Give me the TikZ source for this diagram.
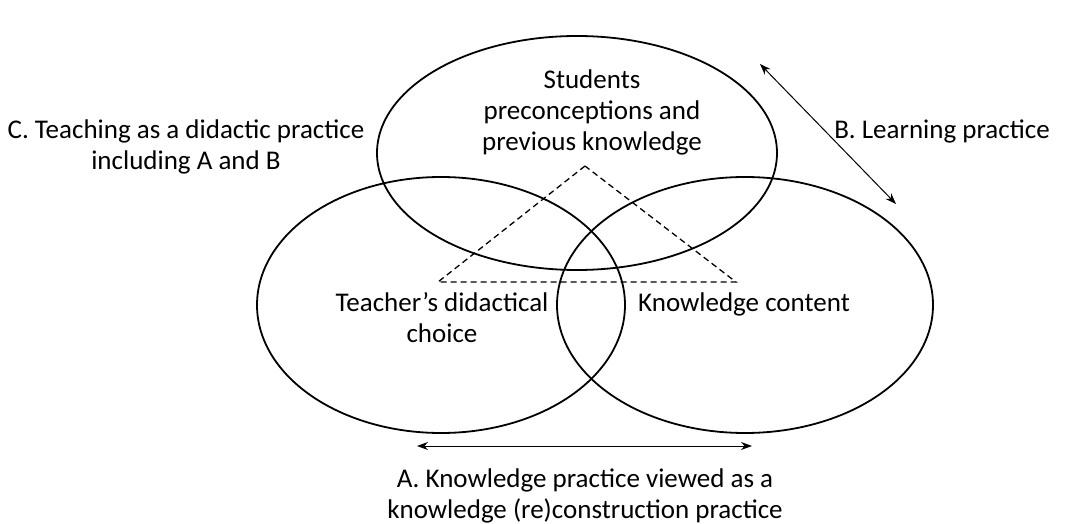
\documentclass[tikz,border=0pt]{standalone}
\usepackage{fontspec}
\setmainfont{Carlito}
\usetikzlibrary{arrows.meta}
\begin{document}
\begin{tikzpicture}[x=1pt,y=-1pt,
  ring/.style={draw=black,line width=1.8pt},
  lab/.style={font=\fontsize{27}{31}\selectfont,align=center,inner sep=0pt,anchor=base},
  dbl/.style={line width=1pt,{Stealth[length=11pt,width=8pt]}-{Stealth[length=11pt,width=8pt]}},
  tri/.style={dashed,line width=1.3pt,dash pattern=on 6pt off 4pt}]
\useasboundingbox (0,0) rectangle (1069,524);
\fill[white] (0,0) rectangle (1069,524);
\draw[ring] (577,153) ellipse [x radius=200, y radius=117];
\draw[ring] (441,305) ellipse [x radius=184, y radius=128];
\draw[ring] (745,305) ellipse [x radius=188, y radius=128];
\coordinate (ta) at (585,166);
\coordinate (tl) at (438,282);
\coordinate (tr) at (736,282);
\draw[tri] (ta) -- (tl) -- (tr) -- cycle;
\coordinate (b1) at (760,64);
\coordinate (b2) at (896,204);
\draw[dbl] (b1) -- (b2);
\coordinate (a1) at (417,446);
\coordinate (a2) at (752,446);
\draw[dbl] (a1) -- (a2);
\node[lab] (stu) at (592,89) {Students};
\node[lab] (pre) at (592,120) {preconceptions and};
\node[lab] (prev) at (592,151) {previous knowledge};
\node[lab] (c1) at (186,139) {C. Teaching as a didactic practice};
\node[lab] (c2) at (186,170) {including A and B};
\node[lab] (b) at (942,139) {B. Learning practice};
\node[lab] (t1) at (442,311) {Teacher’s didactical};
\node[lab] (t2) at (442,342) {choice};
\node[lab] (k) at (744,311) {Knowledge content};
\node[lab] (a1t) at (585,487) {A. Knowledge practice viewed as a};
\node[lab] (a2t) at (585,518) {knowledge (re)construction practice};
\end{tikzpicture}
\end{document}
